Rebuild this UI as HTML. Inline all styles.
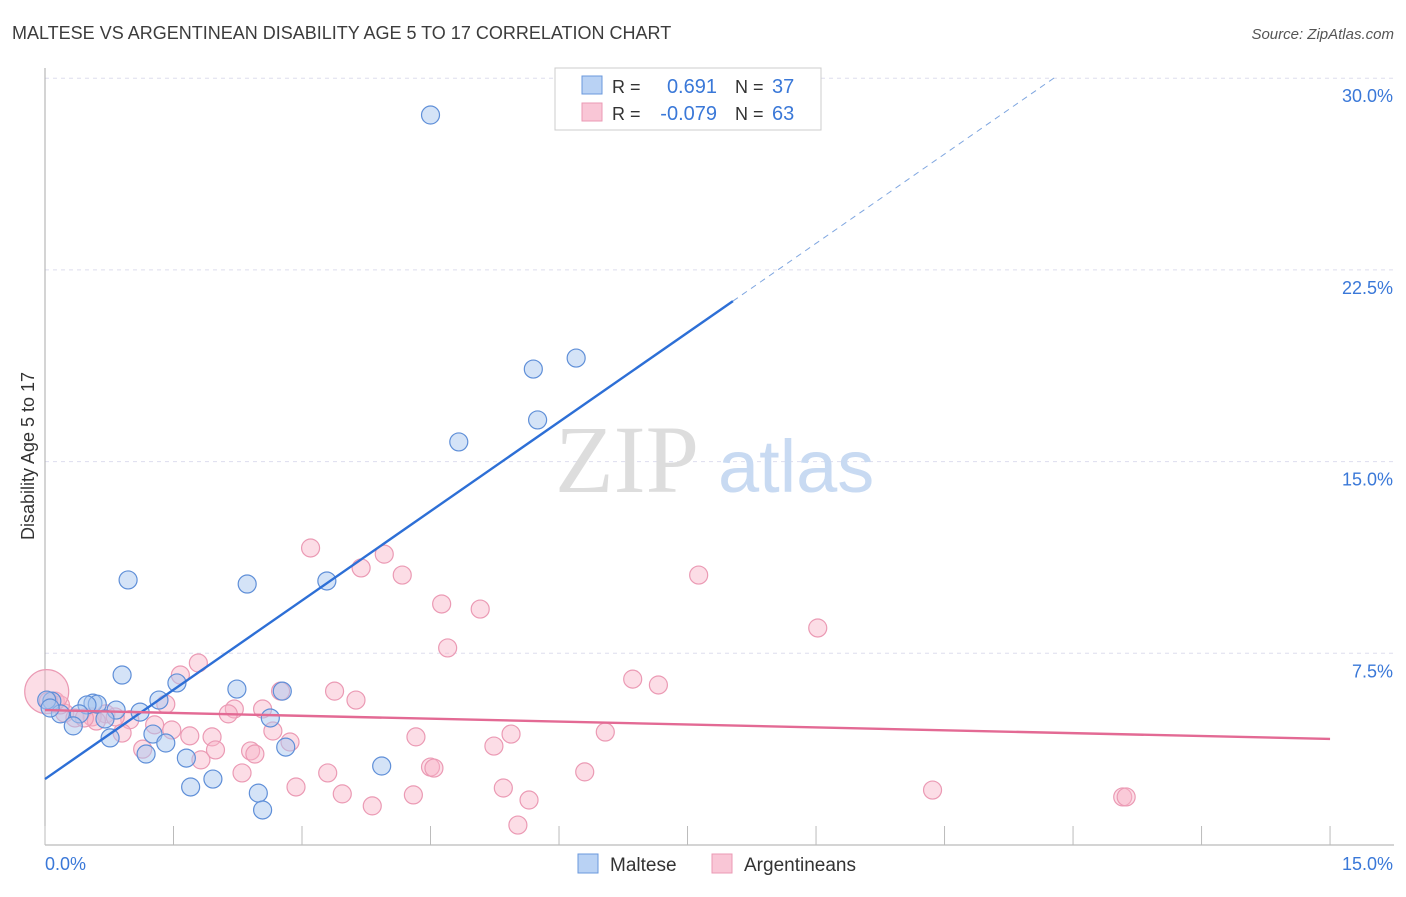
<!DOCTYPE html>
<html><head><meta charset="utf-8"><style>
body{margin:0;background:#fff;font-family:"Liberation Sans",sans-serif;}
</style></head><body>
<svg id="c" width="1406" height="892" xmlns="http://www.w3.org/2000/svg"></svg>
<script>
const blueX=[4.5,6.2,5.7,5.75,4.83,0.97,2.36,3.29,0.9,2.24,2.77,1.54,1.33,0.56,0.61,0.08,0.49,0.83,1.11,0.18,0.4,0.7,2.63,0.33,0.76,1.26,1.41,1.18,1.65,2.81,3.93,1.96,1.7,2.49,2.54,0.02,0.06];
const blueY=[28.56,19.05,18.62,16.63,15.77,10.37,10.21,10.33,6.65,6.1,6.02,6.34,5.67,5.55,5.51,5.63,5.48,5.28,5.2,5.13,5.13,4.93,4.97,4.66,4.19,4.34,3.99,3.56,3.4,3.83,3.09,2.58,2.27,2.03,1.37,5.67,5.36];
const pinkX=[3.1,3.96,3.69,4.17,7.63,4.63,5.08,9.02,4.7,1.79,1.58,6.86,7.16,3.38,3.63,2.75,1.41,2.54,2.21,2.14,0.71,0.55,0.23,0.12,0.35,0.99,1.28,1.48,1.69,1.95,2.66,2.86,4.33,5.44,6.54,1.14,1.99,2.4,2.45,1.82,5.24,2.3,3.3,6.3,4.5,4.54,2.93,3.47,4.3,5.35,3.82,5.65,5.52,10.36,12.58,12.62,0.9,0.6,0.46,0.18,0.82,0.02,0.04];
const pinkY=[11.62,11.38,10.84,10.56,10.56,9.43,9.23,8.49,7.71,7.12,6.65,6.49,6.26,6.02,5.67,6.02,5.51,5.32,5.32,5.13,5.13,5.01,5.16,5.63,4.97,4.9,4.7,4.5,4.27,4.23,4.46,4.03,4.23,4.34,4.42,3.75,3.72,3.68,3.56,3.33,3.87,2.82,2.82,2.86,3.05,3.01,2.27,2.0,1.96,2.23,1.53,1.76,0.78,2.15,1.88,1.88,4.38,4.85,4.97,5.48,5.01,6.0,5.63];
const yTicks=[7.5,15,22.5,30];
const blueLine=[2.58,21.28,8.03];
const pinkLine=[5.28,4.15];
const X=v=>45+v*85.67, Y=v=>845-v*25.56;
const svg=document.getElementById('c');
const NS='http://www.w3.org/2000/svg';
function mk(t,a,p){const e=document.createElementNS(NS,t);for(const k in a)e.setAttribute(k,a[k]);(p||svg).appendChild(e);return e;}
function tx(x,y,s,a){const e=mk('text',Object.assign({x:x,y:y},a));e.textContent=s;return e;}
let t;
t=tx(12,39,'MALTESE VS ARGENTINEAN DISABILITY AGE 5 TO 17 CORRELATION CHART',{'font-size':18,fill:'#3c3c3c'});


t=tx(1394,39,'Source: ZipAtlas.com',{'font-size':15,fill:'#555','font-style':'italic','text-anchor':'end'});


for(const v of yTicks){
 let g=mk('line',{x1:45,x2:1394,y1:Y(v),y2:Y(v),stroke:'#dde','stroke-dasharray':'4,4'});
 
 
 let l=tx(1393,Y(v)+24,v.toFixed(1)+'%',{'font-size':18,fill:'#3a78d8','text-anchor':'end'});
 
 
}
mk('line',{x1:45,x2:45,y1:68,y2:845,stroke:'#aaa'});
mk('line',{x1:45,x2:1394,y1:845,y2:845,stroke:'#aaa'});
for(let i=0;i<=10;i++){let g=mk('line',{x1:X(i*1.5),x2:X(i*1.5),y1:826,y2:845,stroke:'#bbb'});

}
t=tx(45,870,'0.0%',{'font-size':18,fill:'#3a78d8'});


t=tx(1393,870,'15.0%',{'font-size':18,fill:'#3a78d8','text-anchor':'end'});


t=tx(34,456,'Disability Age 5 to 17',{'font-size':18,fill:'#333','text-anchor':'middle',transform:'rotate(-90 34 456)'});


t=tx(555,492,'ZIP',{'font-size':96,fill:'#ddd','font-family':'Liberation Serif'});


t=tx(718,492,'atlas',{'font-size':74,fill:'#c8daf2'});


pinkX.forEach((v,i)=>{let c=mk('circle',{cx:X(v),cy:Y(pinkY[i]),r:(i==pinkX.length-2?22:9),fill:'rgba(248,180,200,0.45)',stroke:'#eb9ab4','stroke-width':1.2});
 
 });
blueX.forEach((v,i)=>{let c=mk('circle',{cx:X(v),cy:Y(blueY[i]),r:9,fill:'rgba(170,200,240,0.5)',stroke:'#5f8fd8','stroke-width':1.2});
 
 });
const slope=(blueLine[1]-blueLine[0])/blueLine[2];
let bl=mk('line',{x1:X(0),y1:Y(blueLine[0]),x2:X(blueLine[2]),y2:Y(blueLine[1]),stroke:'#2d6fd6','stroke-width':2.4});


const xe=(30.1-blueLine[0])/slope;
let bd=mk('line',{x1:X(blueLine[2]),y1:Y(blueLine[1]),x2:X(xe),y2:Y(30.1),stroke:'#7fa6e0','stroke-width':1,'stroke-dasharray':'6,5'});


let pl=mk('line',{x1:X(0),y1:Y(pinkLine[0]),x2:X(15),y2:Y(pinkLine[1]),stroke:'#e36a94','stroke-width':2.4});


let lb=mk('rect',{x:555,y:68,width:266,height:62,fill:'#fff',stroke:'#ccc'});


mk('rect',{x:582,y:76,width:20,height:18,fill:'#b9d2f4',stroke:'#6a98dc'});
mk('rect',{x:582,y:103,width:20,height:18,fill:'#f9c6d6',stroke:'#eb9ab4'});
tx(612,93,'R =',{'font-size':18,fill:'#333'});tx(717,93,'0.691',{'font-size':20,fill:'#3a78d8','text-anchor':'end'});
tx(735,93,'N =',{'font-size':18,fill:'#333'});tx(772,93,'37',{'font-size':20,fill:'#3a78d8'});
tx(612,120,'R =',{'font-size':18,fill:'#333'});tx(717,120,'-0.079',{'font-size':20,fill:'#3a78d8','text-anchor':'end'});
tx(735,120,'N =',{'font-size':18,fill:'#333'});tx(772,120,'63',{'font-size':20,fill:'#3a78d8'});
let g1=mk('rect',{x:578,y:854,width:20,height:19,fill:'#b9d2f4',stroke:'#6a98dc'});


t=tx(610,871,'Maltese',{'font-size':19,fill:'#333'});


let g2=mk('rect',{x:712,y:854,width:20,height:19,fill:'#f9c6d6',stroke:'#eb9ab4'});


t=tx(744,871,'Argentineans',{'font-size':19,fill:'#333'});


</script>
</body></html>
